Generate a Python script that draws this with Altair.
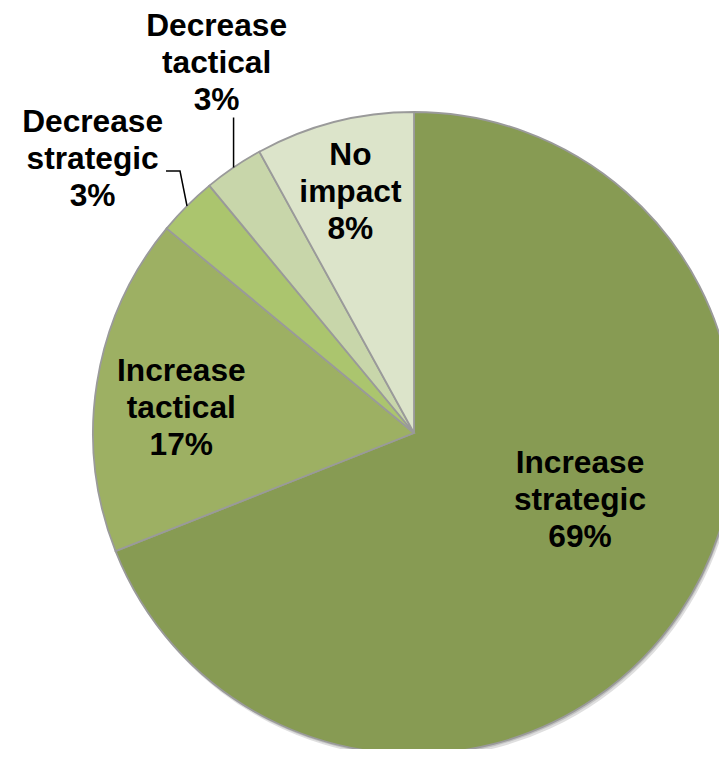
import math
import altair as alt
import pandas as pd

# ---- data ----
categories = ["Increase strategic", "Increase tactical", "Decrease strategic", "Decrease tactical", "No impact"]
label_lines = ["Increase\nstrategic", "Increase\ntactical", "Decrease\nstrategic", "Decrease\ntactical", "No\nimpact"]
values = [69, 17, 3, 3, 8]

# ---- style ----
colors = ["#879B53", "#9DB063", "#ABC56E", "#C8D6AA", "#DCE4CA"]
W, H = 711, 741
CX, CY, R = 406, 425, 321
LH = 37
# label placement: (angle tweak from slice mid, deg ; radius px)
label_place = {
    "Increase strategic": (-12.2, 179),
    "Increase tactical": (-2.9, 234),
    "Decrease strategic": (-4.6, 422),
    "Decrease tactical": (6.1, 419),
    "No impact": (-0.4, 249),
}
# leader line offsets from slice edge point
leaders = {
    "Decrease strategic": [(0, 0), (-7, -35), (-21, -35)],
    "Decrease tactical": [(0, 0), (0, -50)],
}

total = sum(values)
df = pd.DataFrame({"cat": categories, "v": values, "order": range(len(values))})

rows, lrows = [], []
cum = 0
for c, lab, v in zip(categories, label_lines, values):
    mid = (cum + v / 2) / total * 360
    cum += v
    tw, r = label_place[c]
    a = math.radians(mid + tw)
    rows.append({"cat": c, "txt": f"{lab}\n{round(v / total * 100)}%",
                 "x": CX + r * math.sin(a), "y": CY - r * math.cos(a) - LH})
    if c in leaders:
        am = math.radians(mid)
        ex, ey = CX + R * math.sin(am), CY - R * math.cos(am)
        for i, (dx, dy) in enumerate(leaders[c]):
            lrows.append({"cat": c, "i": i, "x": ex + dx, "y": ey + dy})
ldf = pd.DataFrame(rows)
linedf = pd.DataFrame(lrows)

shadow = alt.Chart(df).mark_arc(radius=R, color="#7f7f7f", opacity=0.25, strokeWidth=0).encode(
    theta=alt.Theta("v:Q", stack=True), order=alt.Order("order:Q"),
    x=alt.value(CX + 2), y=alt.value(CY + 4))
shadow2 = alt.Chart(df).mark_arc(radius=R, color="#7f7f7f", opacity=0.3, strokeWidth=0).encode(
    theta=alt.Theta("v:Q", stack=True), order=alt.Order("order:Q"),
    x=alt.value(CX + 1), y=alt.value(CY + 2))

pie = alt.Chart(df).mark_arc(radius=R, stroke="#9a9a9a", strokeWidth=1.8).encode(
    theta=alt.Theta("v:Q", stack=True),
    order=alt.Order("order:Q"),
    color=alt.Color("cat:N", scale=alt.Scale(domain=categories, range=colors), legend=None),
    x=alt.value(CX), y=alt.value(CY),
)

lines = alt.Chart(linedf).mark_line(color="black", strokeWidth=1.5).encode(
    x=alt.X("x:Q", scale=None), y=alt.Y("y:Q", scale=None),
    detail="cat:N", order="i:Q")

texts = alt.Chart(ldf).mark_text(
    font="Liberation Sans", fontSize=31.7, fontWeight="bold", lineHeight=LH,
    lineBreak="\n", align="center", baseline="middle", color="black").encode(
    x=alt.X("x:Q", scale=None), y=alt.Y("y:Q", scale=None), text="txt:N")

chart = alt.layer(shadow, shadow2, pie, lines, texts).properties(
    width=W, height=H, padding=0, autosize=alt.AutoSizeParams(type="none")
).configure_view(stroke=None)

chart.save("out.html", embed_options={"renderer": "svg", "actions": False})
